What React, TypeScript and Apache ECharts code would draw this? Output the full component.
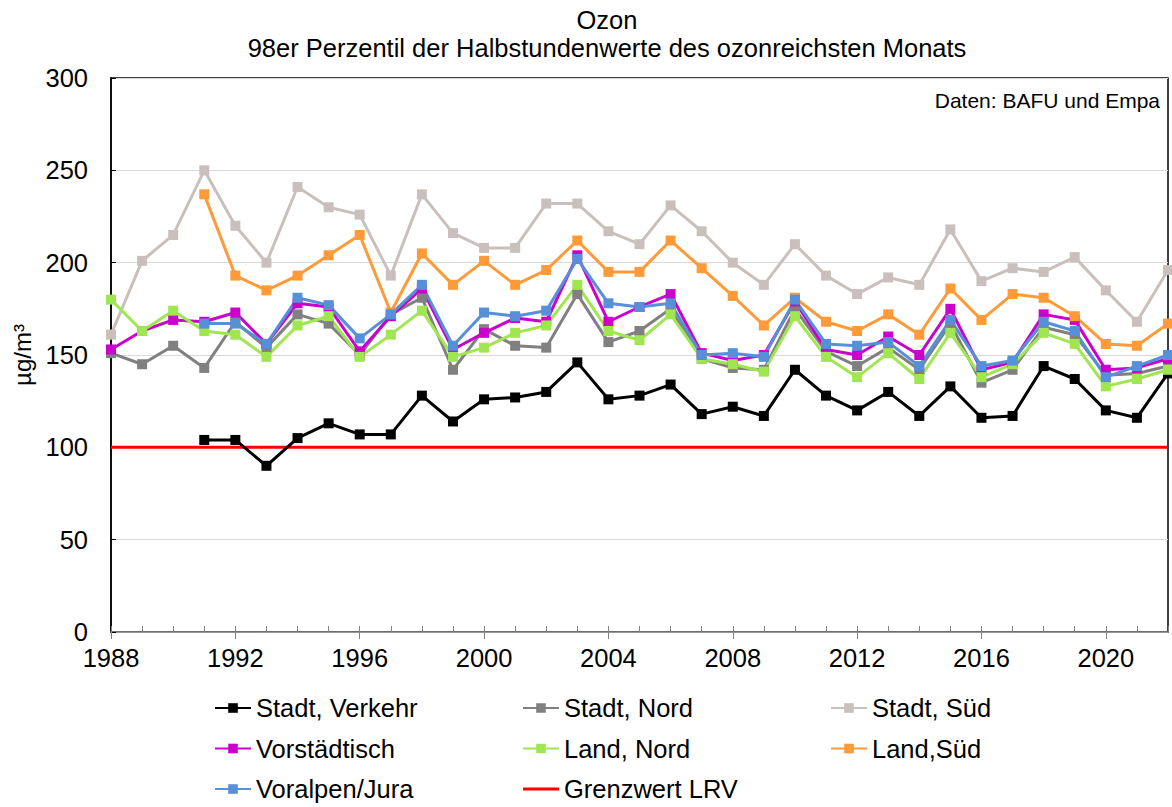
import React, { useEffect, useRef } from "react";
import * as echarts from "echarts";

const years = [
  1988, 1989, 1990, 1991, 1992, 1993, 1994, 1995, 1996, 1997, 1998, 1999, 2000, 2001, 2002, 2003, 2004,
  2005, 2006, 2007, 2008, 2009, 2010, 2011, 2012, 2013, 2014, 2015, 2016, 2017, 2018, 2019, 2020, 2021, 2022,
];

const stadtVerkehr = [
  null, null, null, 104, 104, 90, 105, 113, 107, 107, 128, 114, 126, 127, 130, 146, 126,
  128, 134, 118, 122, 117, 142, 128, 120, 130, 117, 133, 116, 117, 144, 137, 120, 116, 140,
];
const stadtNord = [
  151, 145, 155, 143, 168, 154, 172, 167, 150, 172, 181, 142, 164, 155, 154, 183, 157,
  163, 175, 148, 143, 142, 175, 152, 144, 154, 142, 167, 135, 142, 165, 161, 139, 140, 144,
];
const stadtSued = [
  161, 201, 215, 250, 220, 200, 241, 230, 226, 193, 237, 216, 208, 208, 232, 232, 217,
  210, 231, 217, 200, 188, 210, 193, 183, 192, 188, 218, 190, 197, 195, 203, 185, 168, 196,
];
const vorstaedtisch = [
  153, 163, 169, 168, 173, 156, 178, 176, 152, 171, 186, 153, 162, 170, 168, 204, 168,
  176, 183, 151, 147, 150, 179, 153, 150, 160, 150, 175, 142, 146, 172, 169, 142, 143, 148,
];
const landNord = [
  180, 163, 174, 163, 161, 149, 166, 171, 149, 161, 174, 149, 154, 162, 166, 188, 163,
  158, 172, 148, 145, 141, 171, 149, 138, 151, 137, 162, 138, 145, 162, 156, 133, 137, 142,
];
const landSued = [
  null, null, null, 237, 193, 185, 193, 204, 215, 173, 205, 188, 201, 188, 196, 212, 195,
  195, 212, 197, 182, 166, 181, 168, 163, 172, 161, 186, 169, 183, 181, 171, 156, 155, 167,
];
const voralpenJura = [
  null, null, null, 167, 167, 156, 181, 177, 159, 172, 188, 155, 173, 171, 174, 202, 178,
  176, 178, 150, 151, 149, 180, 156, 155, 157, 144, 169, 144, 147, 168, 163, 138, 144, 150,
];
const grenzwertLRV = 100;

const yTicks = [0, 50, 100, 150, 200, 250, 300];
const majorYears = [1988, 1992, 1996, 2000, 2004, 2008, 2012, 2016, 2020];

const seriesDefs = [
  { name: "Stadt, Verkehr", data: stadtVerkehr, color: "#000000" },
  { name: "Stadt, Nord", data: stadtNord, color: "#808080" },
  { name: "Stadt, Süd", data: stadtSued, color: "#c9c0bd" },
  { name: "Vorstädtisch", data: vorstaedtisch, color: "#cc00cc" },
  { name: "Land, Nord", data: landNord, color: "#a0e650" },
  { name: "Land,Süd", data: landSued, color: "#ff9a38" },
  { name: "Voralpen/Jura", data: voralpenJura, color: "#5590d8" },
];

const FONT = "'Liberation Sans', Arial, sans-serif";
const FS = 25.5;

export default function App() {
  const ref = useRef<HTMLDivElement>(null);
  useEffect(() => {
    if (!ref.current) return;
    const chart = echarts.init(ref.current, null, { renderer: "svg" });
    const lineSeries = seriesDefs.map((s) => ({
      name: s.name,
      type: "line",
      xAxisIndex: 0,
      data: years
        .map((y, i) => [y, s.data[i]])
        .filter((d) => d[1] !== null && d[1] !== undefined),
      symbol: "rect",
      symbolSize: 10,
      itemStyle: { color: s.color },
      lineStyle: { color: s.color, width: 3 },
      emphasis: { disabled: true },
    }));
    const legendCommon = {
      orient: "vertical",
      top: 694,
      padding: 0,
      itemGap: 12.5,
      itemWidth: 36,
      itemHeight: 12,
      itemTextGap: 8,
      textStyle: { fontSize: FS, color: "#000", fontFamily: FONT, lineHeight: 28 },
      selectedMode: false,
    };
    const lineIcon = "path://M0,0H36V3H0Z";
    chart.setOption({
      animation: false,
      textStyle: { fontFamily: FONT },
      grid: {
        left: 111,
        right: 4,
        top: 78,
        bottom: 175,
        show: true,
        borderColor: "#000",
        borderWidth: 1.5,
        containLabel: false,
      },
      graphic: [
        {
          type: "text",
          x: 607,
          y: 20,
          style: {
            text: "Ozon",
            font: `${FS}px ${FONT}`,
            fill: "#000",
            textAlign: "center",
            textVerticalAlign: "middle",
          },
        },
        {
          type: "text",
          x: 607,
          y: 48,
          style: {
            text: "98er Perzentil der Halbstundenwerte des ozonreichsten Monats",
            font: `${FS}px ${FONT}`,
            fill: "#000",
            textAlign: "center",
            textVerticalAlign: "middle",
          },
        },
        {
          type: "text",
          x: 1160,
          y: 100,
          style: {
            text: "Daten: BAFU und Empa",
            font: `21px ${FONT}`,
            fill: "#000",
            textAlign: "right",
            textVerticalAlign: "middle",
          },
        },
      ],
      legend: [
        { ...legendCommon, left: 214, data: ["Stadt, Verkehr", "Vorstädtisch", "Voralpen/Jura"] },
        {
          ...legendCommon,
          left: 522,
          data: ["Stadt, Nord", "Land, Nord", { name: "Grenzwert LRV", icon: lineIcon }],
        },
        { ...legendCommon, left: 830, data: ["Stadt, Süd", "Land,Süd"] },
      ],
      xAxis: [
        {
          type: "value",
          position: "bottom",
          min: years[0],
          max: years[years.length - 1],
          interval: 1,
          axisLine: { show: true, lineStyle: { color: "#808080", width: 1.5 } },
          axisTick: { show: true, inside: true, length: 6, lineStyle: { color: "#808080" } },
          axisLabel: {
            fontSize: FS,
            color: "#000",
            margin: 13,
            fontFamily: FONT,
            formatter: (v: number) => (majorYears.includes(v) ? String(v) : ""),
          },
          splitLine: { show: false },
        },
        {
          type: "value",
          position: "bottom",
          offset: 0,
          min: years[0],
          max: years[years.length - 1],
          axisLine: { show: false },
          axisTick: {
            show: true,
            inside: false,
            length: 7,
            customValues: majorYears,
            lineStyle: { color: "#808080" },
          },
          axisLabel: { show: false },
          splitLine: { show: false },
        },
      ],
      yAxis: {
        type: "value",
        min: yTicks[0],
        max: yTicks[yTicks.length - 1],
        interval: 50,
        name: "µg/m³",
        nameLocation: "middle",
        nameGap: 74,
        nameTextStyle: { fontSize: 24, color: "#000", fontFamily: FONT },
        axisLine: { show: true, lineStyle: { color: "#000", width: 1.5 } },
        axisTick: { show: true, inside: true, length: 5, lineStyle: { color: "#000" } },
        axisLabel: { fontSize: FS, color: "#000", margin: 23, fontFamily: FONT },
        splitLine: { show: true, lineStyle: { color: "#d9d9d9", width: 1 } },
      },
      series: [
        ...lineSeries,
        {
          name: "Grenzwert LRV",
          type: "line",
          xAxisIndex: 0,
          data: [
            [years[0], grenzwertLRV],
            [years[years.length - 1], grenzwertLRV],
          ],
          symbol: "none",
          itemStyle: { color: "#ff0000" },
          lineStyle: { color: "#ff0000", width: 3 },
          z: 1,
          emphasis: { disabled: true },
        },
      ],
    });
    return () => chart.dispose();
  }, []);
  return <div ref={ref} style={{ width: 1172, height: 807, position: "absolute", left: 0, top: 0 }} />;
}
